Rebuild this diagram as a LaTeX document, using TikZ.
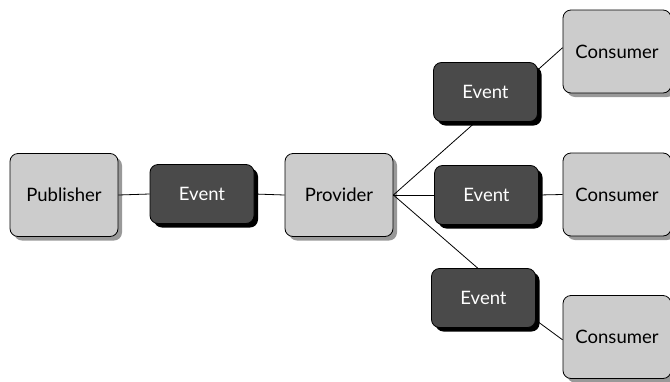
\documentclass[tikz,border=0pt]{standalone}
\usepackage{fontspec}
\setmainfont{Lato}
\usetikzlibrary{shadows}
\definecolor{lightbox}{HTML}{CCCCCC}
\definecolor{darkbox}{HTML}{4A4A4A}
\definecolor{lshadow}{HTML}{999999}
\begin{document}
\begin{tikzpicture}[x=1pt,y=-1pt,
  lbox/.style={draw=black,line width=0.8pt,fill=lightbox,rounded corners=8pt,
    minimum width=108pt,minimum height=83pt,inner sep=0pt,font=\fontsize{18.5}{22}\selectfont,
    drop shadow={shadow xshift=4pt,shadow yshift=-4pt,fill=lshadow,opacity=1}},
  dbox/.style={draw=black,line width=0.8pt,fill=darkbox,text=white,rounded corners=8pt,
    minimum width=104pt,minimum height=59pt,inner sep=0pt,font=\fontsize{18.5}{22}\selectfont,
    drop shadow={shadow xshift=4pt,shadow yshift=-4pt,fill=black,opacity=1}},
  conn/.style={draw=black,line width=0.8pt}]
\useasboundingbox (0,0) rectangle (670,381);
\node[lbox] (pub) at (64,195) {Publisher};
\node[dbox] (ev1) at (202,194) {Event};
\node[lbox] (prov) at (339,195) {Provider};
\node[dbox] (evt) at (485.5,92) {Event};
\node[dbox] (evm) at (486.5,195) {Event};
\node[dbox] (evb) at (483.5,298) {Event};
\node[lbox] (c1) at (617,51.5) {Consumer};
\node[lbox] (c2) at (617,194.5) {Consumer};
\node[lbox] (c3) at (617,337) {Consumer};
\draw[conn] (pub.east) -- (ev1.west);
\draw[conn] (ev1.east) -- (prov.west);
\draw[conn] (prov.east) -- (evt.252);
\draw[conn] (prov.east) -- (evm.west);
\draw[conn] (prov.east) -- (evb.101);
\draw[conn] (evt.23) -- (c1.176);
\draw[conn] (evm.east) -- (c2.west);
\draw[conn] (evb.-23) -- (c3.183);
\end{tikzpicture}
\end{document}
